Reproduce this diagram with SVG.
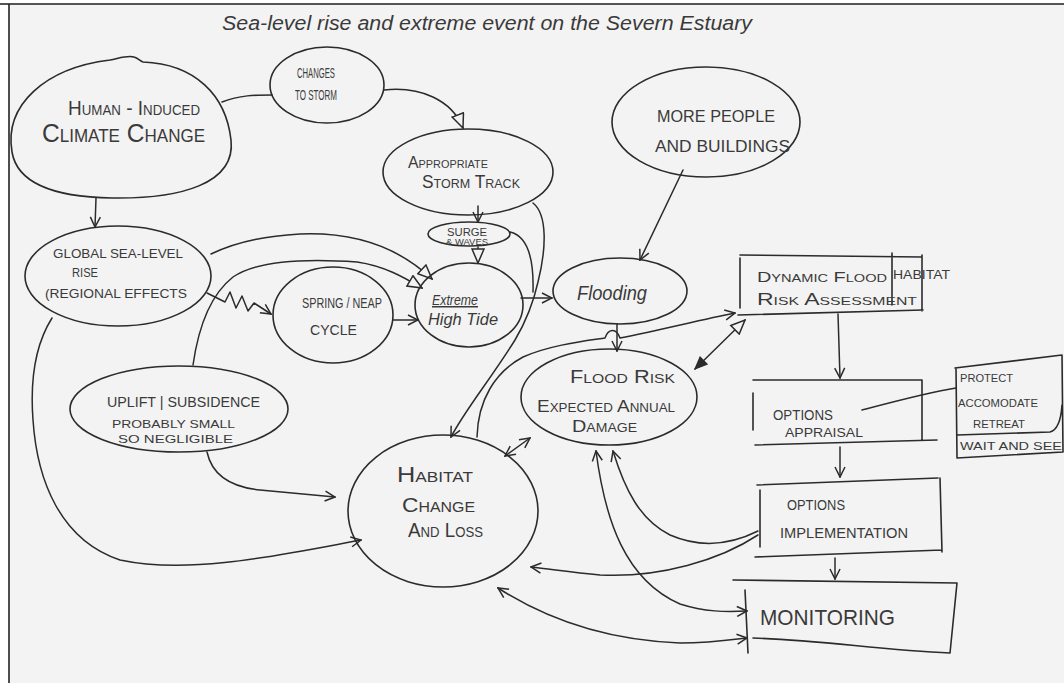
<svg xmlns="http://www.w3.org/2000/svg" width="1064" height="683" viewBox="0 0 1064 683">
  <defs>
    <style>
      .ink { fill: none; stroke: #2b2b2b; stroke-width: 1.5; stroke-linecap: round; stroke-linejoin: round; }
      .node { fill: none; stroke: #2b2b2b; stroke-width: 1.6; stroke-linecap: round; }
      .t { font-family: "Liberation Sans", "DejaVu Sans", sans-serif; fill: #3a3a3a; }
      .sc { font-variant: small-caps; }
      .hand { font-style: italic; }
    </style>
    <marker id="arr" viewBox="0 0 12 12" refX="11" refY="6" markerWidth="12" markerHeight="12" markerUnits="userSpaceOnUse" orient="auto-start-reverse">
      <path d="M1,1 L11,6 L1,11" fill="none" stroke="#2b2b2b" stroke-width="1.5"/>
    </marker>
    <marker id="tri" viewBox="0 0 16 14" refX="15" refY="7" markerWidth="16" markerHeight="14" markerUnits="userSpaceOnUse" orient="auto-start-reverse">
      <path d="M1,1 L15,7 L1,13 Z" fill="#f3f3f3" stroke="#2b2b2b" stroke-width="1.5"/>
    </marker>
    <marker id="trifill" viewBox="0 0 14 12" refX="13" refY="6" markerWidth="14" markerHeight="12" markerUnits="userSpaceOnUse" orient="auto-start-reverse">
      <path d="M1,1 L13,6 L1,11 Z" fill="#2b2b2b" stroke="#2b2b2b" stroke-width="1.2"/>
    </marker>
  </defs>

  <!-- paper -->
  <rect x="0" y="0" width="1064" height="683" fill="#ffffff"/>
  <rect x="9" y="4" width="1055" height="679" fill="#f3f3f3"/>
  <path d="M0,4 L1064,4" stroke="#555" stroke-width="2" fill="none"/>
  <path d="M9,4 L9,683" stroke="#222" stroke-width="1.6" fill="none"/>

  <!-- heading -->
  <text class="t hand" x="222" y="30" font-size="20" textLength="530" lengthAdjust="spacingAndGlyphs">Sea-level rise and extreme event on the Severn Estuary</text>

  <!-- connectors -->
  <g id="connectors">
    <path class="ink" d="M96,198 L95,227" marker-end="url(#arr)"/>
    <path class="ink" d="M222,102 C240,95 255,95 272,95"/>
    <path class="ink" d="M384,90 C420,86 452,100 463,128" marker-end="url(#tri)"/>
    <path class="ink" d="M478,206 L478,222" marker-end="url(#arr)"/>
    <path class="ink" d="M478,247 L478,263" marker-end="url(#tri)"/>
    <path class="ink" d="M533,203 C548,215 546,250 538,282 C534,300 528,318 515,340 C490,380 465,410 451,437" marker-end="url(#arr)"/>
    <path class="ink" d="M510,232 C528,236 534,258 533,292"/>
    <path class="ink" d="M521,298 L552,298" marker-end="url(#arr)"/>
    <path class="ink" d="M683,170 L640,260" marker-end="url(#arr)"/>
    <path class="ink" d="M211,254 C240,240 270,236 300,234 C350,232 395,244 432,279" marker-end="url(#tri)"/>
    <path class="ink" d="M193,365 C198,330 210,295 233,277 C255,262 300,258 357,262 C385,266 405,278 422,288" marker-end="url(#tri)"/>
    <path class="ink" d="M207,293 L225,302 L230,292 L236,308 L242,296 L248,311 L254,303 L271,314" marker-end="url(#arr)"/>
    <path class="ink" d="M52,318 C35,345 30,380 33,420 C37,480 60,540 120,560 C190,575 280,555 361,540" marker-end="url(#arr)"/>
    <path class="ink" d="M207,452 C212,475 230,487 260,490 C290,493 315,495 335,497" marker-end="url(#arr)"/>
    <path class="ink" d="M393,320 L418,320" marker-end="url(#arr)"/>
    <path class="ink" d="M477,437 C478,400 495,372 523,357 C550,345 585,341 605,338 C608,329 616,327 620,338 C660,330 700,320 735,313" marker-end="url(#arr)"/>
    <path class="ink" d="M617,324 L617,351" marker-end="url(#arr)"/>
    <path class="ink" d="M695,369 L745,320" marker-start="url(#trifill)" marker-end="url(#tri)"/>
    <path class="ink" d="M838,314 L840,378" marker-end="url(#arr)"/>
    <path class="ink" d="M840,447 L840,477" marker-end="url(#arr)"/>
    <path class="ink" d="M835,558 L835,579" marker-end="url(#arr)"/>
    <path class="ink" d="M862,410 C900,400 930,392 956,388"/>
    <path class="ink" d="M505,456 L530,438" marker-start="url(#arr)" marker-end="url(#arr)"/>
    <path class="ink" d="M758,531 C730,545 700,548 670,535 C640,520 625,490 613,451" marker-end="url(#arr)"/>
    <path class="ink" d="M758,535 C720,560 660,578 600,575 C570,572 550,569 531,567" marker-end="url(#arr)"/>
    <path class="ink" d="M596,451 C605,520 625,580 680,604 C705,612 725,612 747,611" marker-start="url(#arr)" marker-end="url(#arr)"/>
    <path class="ink" d="M498,588 C540,615 600,640 680,643 C710,643 730,640 747,638" marker-start="url(#arr)" marker-end="url(#arr)"/>
  </g>

  <!-- nodes -->
  <g id="human-induced">
    <path class="node" d="M12,152 C4,105 45,68 110,60 C120,58 128,55 134,57 C138,58 140,61 143,62 C195,64 226,95 231,140 C236,184 180,199 112,198 C52,197 17,182 12,152 Z"/>
    <text class="t sc" x="68" y="115" font-size="20" textLength="132" lengthAdjust="spacingAndGlyphs">Human - Induced</text>
    <text class="t sc" x="42" y="142" font-size="26" textLength="163" lengthAdjust="spacingAndGlyphs">Climate Change</text>
  </g>
  <g id="changes-to-storm">
    <ellipse class="node" cx="327" cy="85" rx="57" ry="38"/>
    <text class="t" x="297" y="78" font-size="14" textLength="38" lengthAdjust="spacingAndGlyphs">CHANGES</text>
    <text class="t" x="295" y="100" font-size="14" textLength="42" lengthAdjust="spacingAndGlyphs">TO STORM</text>
  </g>
  <g id="storm-track">
    <ellipse class="node" cx="468" cy="172" rx="85" ry="43"/>
    <text class="t sc" x="408" y="168" font-size="16" textLength="80" lengthAdjust="spacingAndGlyphs">Appropriate</text>
    <text class="t sc" x="422" y="188" font-size="18" textLength="98" lengthAdjust="spacingAndGlyphs">Storm Track</text>
  </g>
  <g id="surge">
    <ellipse class="node" cx="469" cy="234" rx="41" ry="12"/>
    <text class="t" x="447" y="236" font-size="10" textLength="40" lengthAdjust="spacingAndGlyphs">SURGE</text>
    <text class="t" x="446" y="245" font-size="9" textLength="42" lengthAdjust="spacingAndGlyphs">&amp; WAVES</text>
  </g>
  <g id="extreme-high-tide">
    <ellipse class="node" cx="469" cy="305" rx="54" ry="42"/>
    <text class="t hand" x="432" y="305" font-size="15" textLength="46" lengthAdjust="spacingAndGlyphs" text-decoration="underline">Extreme</text>
    <text class="t hand" x="428" y="325" font-size="16" textLength="70" lengthAdjust="spacingAndGlyphs">High Tide</text>
  </g>
  <g id="spring-neap">
    <ellipse class="node" cx="333" cy="315" rx="60" ry="48"/>
    <text class="t" x="302" y="308" font-size="14" textLength="80" lengthAdjust="spacingAndGlyphs">SPRING / NEAP</text>
    <text class="t" x="310" y="335" font-size="15" textLength="47" lengthAdjust="spacingAndGlyphs">CYCLE</text>
  </g>
  <g id="global-sea-level">
    <ellipse class="node" cx="118" cy="276" rx="93" ry="50"/>
    <text class="t" x="53" y="258" font-size="13" textLength="130" lengthAdjust="spacingAndGlyphs">GLOBAL SEA-LEVEL</text>
    <text class="t" x="72" y="277" font-size="13" textLength="26" lengthAdjust="spacingAndGlyphs">RISE</text>
    <text class="t" x="45" y="298" font-size="13" textLength="142" lengthAdjust="spacingAndGlyphs">(REGIONAL EFFECTS</text>
  </g>
  <g id="uplift">
    <ellipse class="node" cx="179" cy="409" rx="109" ry="43"/>
    <text class="t" x="107" y="407" font-size="14" textLength="153" lengthAdjust="spacingAndGlyphs">UPLIFT | SUBSIDENCE</text>
    <text class="t" x="112" y="428" font-size="11" textLength="123" lengthAdjust="spacingAndGlyphs">PROBABLY SMALL</text>
    <text class="t" x="118" y="443" font-size="11" textLength="115" lengthAdjust="spacingAndGlyphs">SO NEGLIGIBLE</text>
  </g>
  <g id="habitat">
    <ellipse class="node" cx="443" cy="511" rx="95" ry="76"/>
    <text class="t sc" x="397" y="482" font-size="22" textLength="76" lengthAdjust="spacingAndGlyphs">Habitat</text>
    <text class="t sc" x="402" y="512" font-size="20" textLength="73" lengthAdjust="spacingAndGlyphs">Change</text>
    <text class="t sc" x="408" y="537" font-size="20" textLength="75" lengthAdjust="spacingAndGlyphs">And Loss</text>
  </g>
  <g id="more-people">
    <ellipse class="node" cx="706" cy="122" rx="94" ry="55"/>
    <text class="t" x="657" y="122" font-size="16" textLength="118" lengthAdjust="spacingAndGlyphs">MORE PEOPLE</text>
    <text class="t" x="655" y="152" font-size="16" textLength="135" lengthAdjust="spacingAndGlyphs">AND BUILDINGS</text>
  </g>
  <g id="flooding">
    <ellipse class="node" cx="620" cy="291" rx="67" ry="33"/>
    <text class="t hand" x="577" y="300" font-size="21" textLength="70" lengthAdjust="spacingAndGlyphs">Flooding</text>
  </g>
  <g id="flood-risk">
    <ellipse class="node" cx="609" cy="397" rx="88" ry="48"/>
    <text class="t sc" x="570" y="383" font-size="18" textLength="105" lengthAdjust="spacingAndGlyphs">Flood Risk</text>
    <text class="t sc" x="537" y="412" font-size="17" textLength="138" lengthAdjust="spacingAndGlyphs">Expected Annual</text>
    <text class="t sc" x="572" y="432" font-size="17" textLength="65" lengthAdjust="spacingAndGlyphs">Damage</text>
  </g>
  <g id="risk-assessment">
    <path class="node" d="M740,255 L922,257 M740,258 L740,308 M922,255 L922,311 M738,315 L923,310 M892,253 L892,305"/>
    <text class="t sc" x="757" y="282" font-size="15" textLength="130" lengthAdjust="spacingAndGlyphs">Dynamic Flood</text>
    <text class="t" x="893" y="279" font-size="12" textLength="57" lengthAdjust="spacingAndGlyphs">HABITAT</text>
    <text class="t sc" x="757" y="305" font-size="16" textLength="160" lengthAdjust="spacingAndGlyphs">Risk Assessment</text>
  </g>
  <g id="options-appraisal">
    <path class="node" d="M753,380 L922,380 M753,393 L753,430 M922,380 L922,440 M755,445 L937,440"/>
    <text class="t" x="773" y="420" font-size="15" textLength="60" lengthAdjust="spacingAndGlyphs">OPTIONS</text>
    <text class="t" x="785" y="437" font-size="13" textLength="78" lengthAdjust="spacingAndGlyphs">APPRAISAL</text>
  </g>
  <g id="option-list">
    <path class="node" d="M955,368 L1062,355 M956,368 L957,458 M1062,355 L1063,452 M957,458 L1063,452 M957,435 L1050,432 C1058,430 1061,420 1062,405"/>
    <text class="t" x="960" y="382" font-size="11" textLength="53" lengthAdjust="spacingAndGlyphs">PROTECT</text>
    <text class="t" x="958" y="407" font-size="11" textLength="80" lengthAdjust="spacingAndGlyphs">ACCOMODATE</text>
    <text class="t" x="973" y="428" font-size="11" textLength="52" lengthAdjust="spacingAndGlyphs">RETREAT</text>
    <text class="t" x="960" y="450" font-size="10" textLength="102" lengthAdjust="spacingAndGlyphs">WAIT AND SEE</text>
  </g>
  <g id="options-implementation">
    <path class="node" d="M757,485 L938,478 M760,490 L760,547 M940,478 L942,552 M755,557 L942,550"/>
    <text class="t" x="787" y="510" font-size="14" textLength="58" lengthAdjust="spacingAndGlyphs">OPTIONS</text>
    <text class="t" x="780" y="538" font-size="15" textLength="128" lengthAdjust="spacingAndGlyphs">IMPLEMENTATION</text>
  </g>
  <g id="monitoring">
    <path class="node" d="M733,580 L957,583 M745,590 L748,653 M957,583 L950,653 M753,638 C820,640 880,650 950,653"/>
    <text class="t" x="760" y="625" font-size="22" textLength="135" lengthAdjust="spacingAndGlyphs">MONITORING</text>
  </g>
</svg>
